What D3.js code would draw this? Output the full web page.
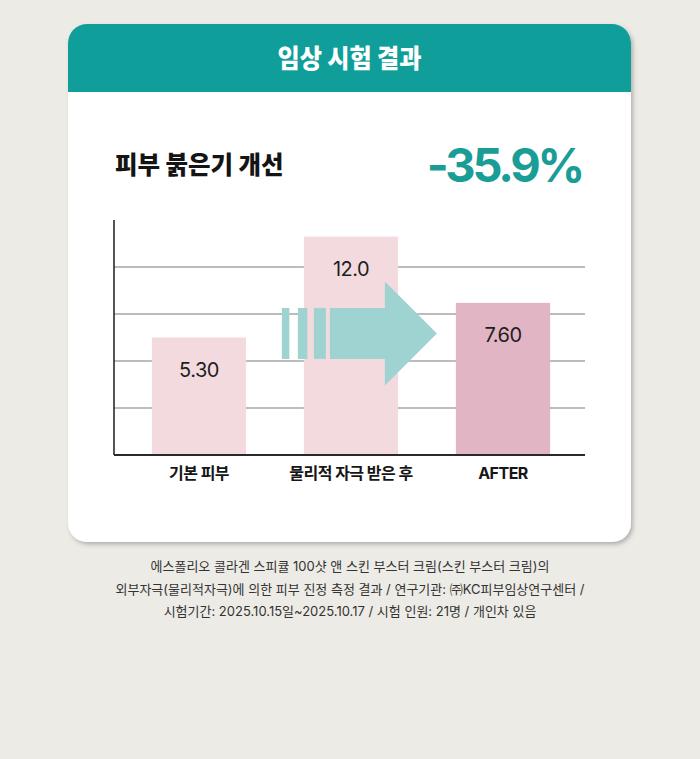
<!DOCTYPE html>
<html>
<head>
<meta charset="utf-8">
<script src="https://cdn.jsdelivr.net/npm/d3@7"></script>
<style>
  html, body { margin: 0; padding: 0; background: #edebe6; }
  svg { display: block; }
</style>
</head>
<body>
<div id="chart"></div>
<script>
// ---- data ----
const headerTitle = "임상 시험 결과";
const chartTitle = "피부 붉은기 개선";
const changeLabel = "-35.9%";
const categories = ["기본 피부", "물리적 자극 받은 후", "AFTER"];
const values = [5.30, 12.0, 7.60];
const valueLabels = ["5.30", "12.0", "7.60"];
const yDomain = [-2.5, 13.1];
const gridDivisions = 5;
const footnoteLines = [
  "에스폴리오 콜라겐 스피큘 100샷 앤 스킨 부스터 크림(스킨 부스터 크림)의",
  "외부자극(물리적자극)에 의한 피부 진정 측정 결과 / 연구기관: ㈜KC피부임상연구센터 /",
  "시험기간: 2025.10.15일~2025.10.17 / 시험 인원: 21명 / 개인차 있음"
];

// ---- layout ----
const W = 700, H = 759;
const FONT = "Inter, 'Noto Sans CJK KR', sans-serif";
const card = { x: 68, y: 24, w: 563, h: 518, r: 19, headerH: 68 };
const plot = { left: 114, right: 585, top: 220, bottom: 455 };

const svg = d3.select("#chart").append("svg")
  .attr("width", W).attr("height", H)
  .attr("viewBox", `0 0 ${W} ${H}`);

svg.append("rect").attr("width", W).attr("height", H).attr("fill", "#edebe6");

const defs = svg.append("defs");
const sh = defs.append("filter").attr("id", "shadow")
  .attr("x", "-10%").attr("y", "-10%").attr("width", "120%").attr("height", "120%");
sh.append("feDropShadow").attr("dx", 2).attr("dy", 2.5).attr("stdDeviation", 2)
  .attr("flood-color", "#000").attr("flood-opacity", 0.25);
defs.append("clipPath").attr("id", "cardClip")
  .append("rect").attr("x", card.x).attr("y", card.y)
  .attr("width", card.w).attr("height", card.h).attr("rx", card.r);

// card
svg.append("rect")
  .attr("x", card.x).attr("y", card.y).attr("width", card.w).attr("height", card.h)
  .attr("rx", card.r).attr("fill", "#ffffff").attr("filter", "url(#shadow)");
svg.append("rect")
  .attr("clip-path", "url(#cardClip)")
  .attr("x", card.x).attr("y", card.y).attr("width", card.w).attr("height", card.headerH)
  .attr("fill", "#0f9e9a");

svg.append("text")
  .attr("x", card.x + card.w / 2).attr("y", 58)
  .attr("text-anchor", "middle").attr("dominant-baseline", "central")
  .attr("font-family", FONT).attr("font-weight", 800).attr("font-size", 26)
  .attr("textLength", 144).attr("lengthAdjust", "spacingAndGlyphs")
  .attr("fill", "#ffffff").text(headerTitle);

svg.append("text")
  .attr("x", 115).attr("y", 165)
  .attr("dominant-baseline", "central")
  .attr("font-family", FONT).attr("font-weight", 800).attr("font-size", 24.5)
  .attr("letter-spacing", 0)
  .attr("fill", "#141414").text(chartTitle);

svg.append("text")
  .attr("x", 582).attr("y", 182)
  .attr("text-anchor", "end")
  .attr("font-family", FONT).attr("font-weight", 700).attr("font-size", 47)
  .attr("letter-spacing", -3.2)
  .attr("fill", "#1a9d97").text(changeLabel);

// ---- scales ----
const x = d3.scaleBand().domain(categories)
  .range([123, 579]).paddingInner(0.38).paddingOuter(0.19);
const y = d3.scaleLinear().domain(yDomain).range([plot.bottom, plot.top]);

// gridlines
const gridVals = d3.range(1, gridDivisions).map(i => yDomain[0] + i * (yDomain[1] - yDomain[0]) / gridDivisions);
svg.append("g").selectAll("line").data(gridVals).join("line")
  .attr("x1", plot.left).attr("x2", plot.right)
  .attr("y1", d => y(d)).attr("y2", d => y(d))
  .attr("stroke", "#7a7a7a").attr("stroke-width", 1.2);

// bars
const barColors = ["#f3dade", "#f3dade", "#e2b5c5"];
svg.append("g").selectAll("rect").data(values).join("rect")
  .attr("x", (d, i) => x(categories[i]))
  .attr("y", d => y(d))
  .attr("width", x.bandwidth())
  .attr("height", d => y(yDomain[0]) - y(d))
  .attr("fill", (d, i) => barColors[i]);

// arrow (decoration between bars)
const b1 = x(categories[1]), b2 = x(categories[2]);
const ay = y(5.57);
const shaftHalf = 25.5, headHalf = 52;
const tipX = b2 - 19, headX = tipX - 52, shaftX = b1 + 26;
const ag = svg.append("g").attr("fill", "#9fd3d2");
ag.append("path").attr("d",
  `M${shaftX},${ay - shaftHalf} L${headX},${ay - shaftHalf} L${headX},${ay - headHalf} L${tipX},${ay} L${headX},${ay + headHalf} L${headX},${ay + shaftHalf} L${shaftX},${ay + shaftHalf} Z`);
const stripes = [[-48, 7.5], [-32, 9.5], [-16, 12]];
ag.selectAll("rect.s").data(stripes).join("rect")
  .attr("x", d => shaftX + d[0]).attr("y", ay - shaftHalf)
  .attr("width", d => d[1]).attr("height", shaftHalf * 2);

// value labels
svg.append("g").selectAll("text").data(values).join("text")
  .attr("x", (d, i) => x(categories[i]) + x.bandwidth() / 2)
  .attr("y", d => y(d) + 39)
  .attr("text-anchor", "middle")
  .attr("font-family", FONT).attr("font-size", 20).attr("letter-spacing", -0.5)
  .attr("fill", "#1e1e1e").text((d, i) => valueLabels[i]);

// axes lines
svg.append("line").attr("x1", plot.left).attr("x2", plot.left)
  .attr("y1", plot.top).attr("y2", plot.bottom)
  .attr("stroke", "#2a2a2a").attr("stroke-width", 1.6);
const xAxis = d3.axisBottom(x).tickSize(0).tickPadding(0);
const gx = svg.append("g").attr("transform", `translate(0,${plot.bottom})`).call(xAxis);
gx.select(".domain").remove();
svg.append("line").attr("x1", plot.left).attr("x2", plot.right)
  .attr("y1", plot.bottom).attr("y2", plot.bottom)
  .attr("stroke", "#2a2a2a").attr("stroke-width", 1.8);
gx.selectAll("text")
  .attr("y", 18).attr("dy", null)
  .attr("dominant-baseline", "central")
  .attr("font-family", FONT).attr("font-weight", 700).attr("font-size", 16)
  .attr("letter-spacing", -0.5)
  .attr("fill", "#161616");

// footnote
svg.append("g").selectAll("text").data(footnoteLines).join("text")
  .attr("x", W / 2).attr("y", (d, i) => 566 + i * 22.5)
  .attr("text-anchor", "middle").attr("dominant-baseline", "central")
  .attr("font-family", FONT).attr("font-size", 13).attr("letter-spacing", 0)
  .attr("fill", "#333333").text(d => d);
</script>
</body>
</html>
